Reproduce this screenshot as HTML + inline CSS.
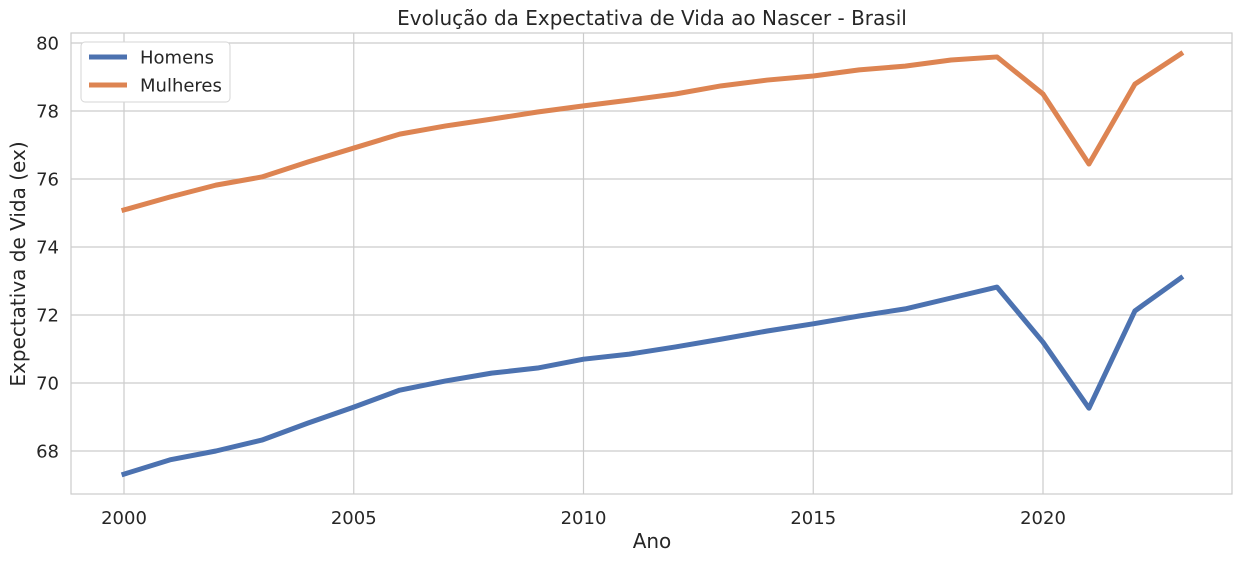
<!DOCTYPE html>
<html><head><meta charset="utf-8"><style>
body{margin:0;background:#fff;}
svg{display:block;font-family:"DejaVu Sans","Liberation Sans",sans-serif;}
</style></head><body>
<svg id="chart" width="1243" height="561"></svg>
<script>
const years=[2000,2001,2002,2003,2004,2005,2006,2007,2008,2009,2010,2011,2012,2013,2014,2015,2016,2017,2018,2019,2020,2021,2022,2023];
const homens=[67.32,67.74,68.0,68.32,68.82,69.29,69.79,70.06,70.29,70.44,70.7,70.85,71.06,71.29,71.53,71.74,71.97,72.18,72.5,72.82,71.2,69.26,72.12,73.09];
const mulheres=[75.09,75.47,75.82,76.06,76.5,76.91,77.32,77.56,77.76,77.97,78.15,78.32,78.5,78.74,78.91,79.03,79.21,79.32,79.5,79.59,78.5,76.44,78.79,79.68];
const xTicks=[2000,2005,2010,2015,2020];
const yTicks=[68,70,72,74,76,78,80];
const NS="http://www.w3.org/2000/svg";
const svg=document.getElementById('chart');
const L=71,R=1232,T=33,B=494;
const xs=v=>124+(v-2000)*45.95;
const ys=v=>451-(v-68)*34;
function mk(tag,attrs,parent){const e=document.createElementNS(NS,tag);for(const k in attrs)e.setAttribute(k,attrs[k]);(parent||svg).appendChild(e);return e;}
const grid=mk('g',{});


xTicks.forEach(t=>{
 const l=mk('line',{x1:xs(t),x2:xs(t),y1:T,y2:B,stroke:'#cccccc','stroke-width':1.2},grid);
 
 
 const tx=mk('text',{x:xs(t),y:B+30,'text-anchor':'middle','font-size':18,fill:'#262626'});
 tx.textContent=t;
 
 
});
yTicks.forEach(t=>{
 const l=mk('line',{x1:L,x2:R,y1:ys(t),y2:ys(t),stroke:'#cccccc','stroke-width':1.2},grid);
 
 
 const tx=mk('text',{x:L-12,y:ys(t)+6.5,'text-anchor':'end','font-size':18,fill:'#262626'});
 tx.textContent=t;
 
 
});
const frame=mk('rect',{x:L,y:T,width:R-L,height:B-T,fill:'none',stroke:'#cccccc','stroke-width':1.2});


function series(vals,color,name){
 const p=mk('polyline',{points:years.map((y,i)=>xs(y)+','+ys(vals[i])).join(' '),fill:'none',stroke:color,'stroke-width':5,'stroke-linejoin':'round','stroke-linecap':'square'});
 
 
}
series(homens,'#4c72b0','homens-line');
series(mulheres,'#dd8452','mulheres-line');
const title=mk('text',{x:652,y:25,'text-anchor':'middle','font-size':20,fill:'#262626'});
title.textContent='Evolução da Expectativa de Vida ao Nascer - Brasil';


const xl=mk('text',{x:652,y:548,'text-anchor':'middle','font-size':20,fill:'#262626'});
xl.textContent='Ano';


const yl=mk('text',{x:0,y:0,'text-anchor':'middle','font-size':20,fill:'#262626',transform:'translate(25,264) rotate(-90)'});
yl.textContent='Expectativa de Vida (ex)';


const lg=mk('g',{});


mk('rect',{x:81,y:42,width:149,height:60,rx:4,fill:'#fff',stroke:'#d6d6d6','stroke-width':1},lg);
[['Homens','#4c72b0',57],['Mulheres','#dd8452',85]].forEach(([n,c,y])=>{
 const s=mk('line',{x1:89,x2:127,y1:y,y2:y,stroke:c,'stroke-width':5},lg);
 
 
 const t=mk('text',{x:140,y:y+6.5,'font-size':18,fill:'#262626'},lg);
 t.textContent=n;
 
 
});
</script>
</body></html>
